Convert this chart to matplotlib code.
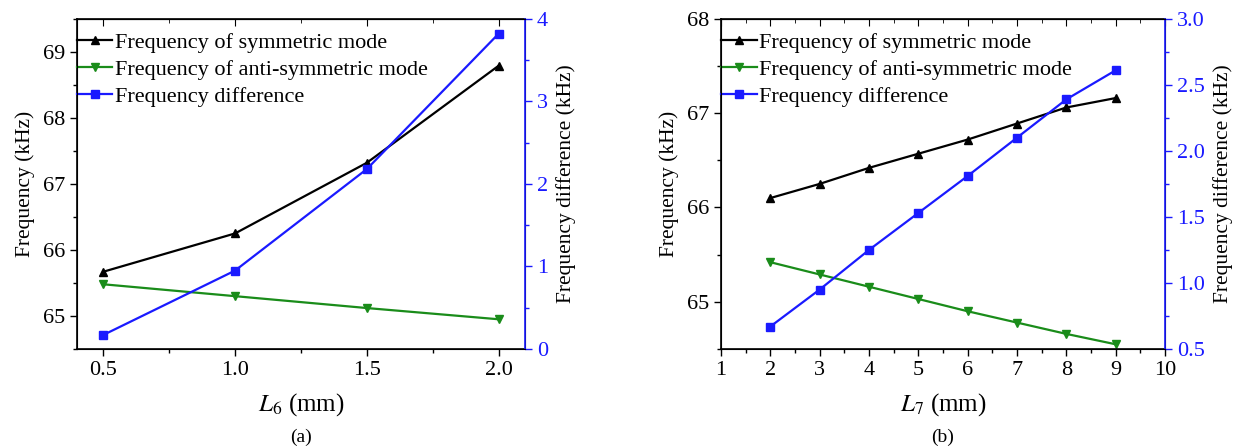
import matplotlib
matplotlib.use("Agg")
import matplotlib.pyplot as plt
from matplotlib.ticker import MultipleLocator, FormatStrFormatter

plt.rcParams['font.family'] = ['Liberation Serif', 'DejaVu Serif']
plt.rcParams['mathtext.fontset'] = 'stix'

# panel (a): L6 sweep
l6 = [0.5, 1.0, 1.5, 2.0]
sym_a = [65.67, 66.25, 67.32, 68.79]
anti_a = [65.48, 65.30, 65.12, 64.95]
diff_a = [0.17, 0.95, 2.18, 3.82]

# panel (b): L7 sweep
l7 = [2, 3, 4, 5, 6, 7, 8, 9]
sym_b = [66.10, 66.25, 66.42, 66.57, 66.72, 66.89, 67.06, 67.16]
anti_b = [65.42, 65.29, 65.16, 65.03, 64.90, 64.78, 64.66, 64.55]
diff_b = [0.67, 0.95, 1.25, 1.53, 1.81, 2.10, 2.39, 2.61]

labels = ['Frequency of symmetric mode',
          'Frequency of anti-symmetric mode',
          'Frequency difference']
BLUE = '#1a1aff'
GREEN = '#1a8c1a'
FS = 16


def draw_panel(ax, x, sym, anti, diff, xlabel, caption):
    ax2 = ax.twinx()
    h1, = ax.plot(x, sym, color='black', marker='^', ms=6, lw=1.6)
    h2, = ax.plot(x, anti, color=GREEN, marker='v', ms=6, lw=1.6)
    h3, = ax2.plot(x, diff, color=BLUE, marker='s', ms=5.5, lw=1.6)

    ax.set_ylabel('Frequency (kHz)', fontsize=FS - 0.5, labelpad=6)
    ax2.set_ylabel('Frequency difference (kHz)', fontsize=FS - 0.5, labelpad=6)
    ax.set_xlabel(xlabel, fontsize=FS + 2, labelpad=8)

    ax.tick_params(axis='both', which='both', direction='out', labelsize=FS)
    ax.tick_params(which='major', length=5, width=1)
    ax.tick_params(which='minor', length=3, width=1)

    # inward ticks on the top spine
    top = ax.secondary_xaxis('top')
    top.set_xticks(ax.get_xticks())
    top.xaxis.set_minor_locator(ax.xaxis.get_minor_locator())
    top.tick_params(which='major', direction='in', length=5, labeltop=False)
    top.tick_params(which='minor', direction='in', length=3)

    ax2.tick_params(axis='y', which='both', direction='out', colors=BLUE,
                    labelsize=FS)
    ax2.tick_params(which='major', length=5, width=1)
    ax2.tick_params(which='minor', length=3, width=1)
    ax2.spines['right'].set_color(BLUE)
    ax2.spines['right'].set_linewidth(1.2)
    for s in ('left', 'bottom', 'top'):
        ax.spines[s].set_linewidth(1.2)

    ax.legend([h1, h2, h3], labels, loc='upper left', frameon=False,
              fontsize=FS, handlelength=1.6, handletextpad=0.1,
              borderaxespad=0.0, borderpad=0.0, labelspacing=0.3,
              bbox_to_anchor=(0.0, 0.96))
    fig = ax.figure
    bb = ax.get_position()
    fig.text((bb.x0 + bb.x1) / 2, 0.005, caption, ha='center', va='bottom',
             fontsize=FS - 2)
    return ax2


fig = plt.figure(figsize=(12.35, 4.48), dpi=100)
ax_a = fig.add_axes([0.0623, 0.221, 0.3628, 0.737])
ax_b = fig.add_axes([0.5838, 0.221, 0.3595, 0.737])

ax_a.set_xlim(0.4, 2.1)
ax_a.set_ylim(64.5, 69.5)
ax_a.xaxis.set_major_locator(MultipleLocator(0.5))
ax_a.xaxis.set_minor_locator(MultipleLocator(0.25))
ax_a.yaxis.set_major_locator(MultipleLocator(1))
ax_a.yaxis.set_minor_locator(MultipleLocator(0.5))
ax_a.xaxis.set_major_formatter(FormatStrFormatter('%.1f'))
r_a = draw_panel(ax_a, l6, sym_a, anti_a, diff_a, r'$L_6$ (mm)', '(a)')
r_a.set_ylim(0, 4)
r_a.yaxis.set_major_locator(MultipleLocator(1))
r_a.yaxis.set_minor_locator(MultipleLocator(0.5))

ax_b.set_xlim(1, 10)
ax_b.set_ylim(64.5, 68)
ax_b.xaxis.set_major_locator(MultipleLocator(1))
ax_b.xaxis.set_minor_locator(MultipleLocator(0.5))
ax_b.yaxis.set_major_locator(MultipleLocator(1))
ax_b.yaxis.set_minor_locator(MultipleLocator(0.5))
r_b = draw_panel(ax_b, l7, sym_b, anti_b, diff_b, r'$L_7$ (mm)', '(b)')
r_b.set_ylim(0.5, 3.0)
r_b.yaxis.set_major_locator(MultipleLocator(0.5))
r_b.yaxis.set_minor_locator(MultipleLocator(0.25))
r_b.yaxis.set_major_formatter(FormatStrFormatter('%.1f'))

fig.savefig('out.png', dpi=100)
